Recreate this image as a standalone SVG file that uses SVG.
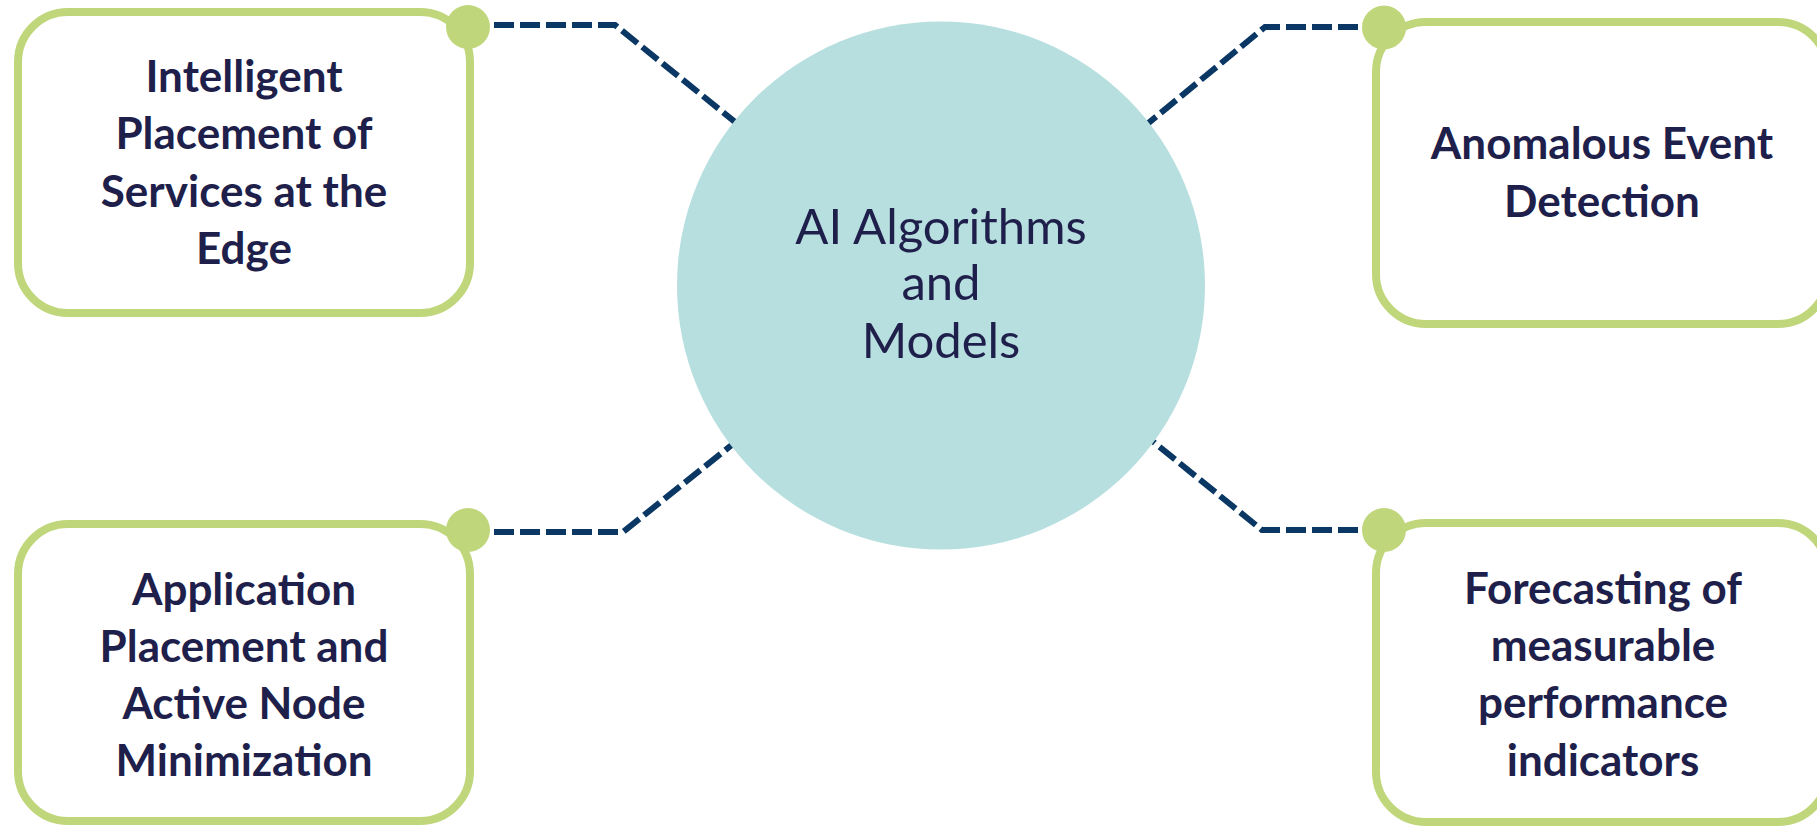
<svg xmlns="http://www.w3.org/2000/svg" width="1817" height="826" viewBox="0 0 1817 826">
<style>
.box{fill:#ffffff;stroke:#bfd67b;stroke-width:8}
.dot{fill:#bfd67b}
.conn{fill:none;stroke:#0a3763;stroke-width:6;stroke-dasharray:20 6}
.lbl{font-family:Lato,"Liberation Sans",sans-serif;font-weight:bold;font-size:44px;fill:#1f1f4b;text-anchor:middle}
.ctr{font-family:Lato,"Liberation Sans",sans-serif;font-size:49px;fill:#1f1f4b;text-anchor:middle}
</style>
<rect width="1817" height="826" fill="#ffffff"/>
<g id="connectors">
<path class="conn" d="M 468 25 H 615 L 740 126"/>
<path class="conn" d="M 1384 27 H 1265 L 1140 130"/>
<path class="conn" d="M 468 532 H 623 L 748 432"/>
<path class="conn" d="M 1384 530 H 1262 L 1140 431"/>
</g>
<g id="center">
<circle cx="941" cy="285.5" r="264" fill="#b8dfdf"/>
<text class="ctr" x="941" y="244">AI Algorithms</text>
<text class="ctr" x="941" y="300">and</text>
<text class="ctr" x="941" y="358">Models</text>
</g>
<g id="node-intelligent">
<rect class="box" x="18" y="12" width="452" height="301" rx="50"/>
<circle class="dot" cx="468" cy="27" r="22"/>
<text class="lbl" x="244" y="92">Intelligent</text>
<text class="lbl" x="244" y="149">Placement of</text>
<text class="lbl" x="244" y="207">Services at the</text>
<text class="lbl" x="244" y="264">Edge</text>
</g>
<g id="node-anomalous">
<rect class="box" x="1376" y="22" width="452" height="302" rx="50"/>
<circle class="dot" cx="1384" cy="27.5" r="22"/>
<text class="lbl" x="1602" y="159">Anomalous Event</text>
<text class="lbl" x="1602" y="217">Detection</text>
</g>
<g id="node-application">
<rect class="box" x="18" y="524" width="452" height="297" rx="50"/>
<circle class="dot" cx="468" cy="530" r="22"/>
<text class="lbl" x="244" y="605">Application</text>
<text class="lbl" x="244" y="662">Placement and</text>
<text class="lbl" x="244" y="719">Active Node</text>
<text class="lbl" x="244" y="776">Minimization</text>
</g>
<g id="node-forecasting">
<rect class="box" x="1376" y="523" width="452" height="299" rx="50"/>
<circle class="dot" cx="1384" cy="530" r="22"/>
<text class="lbl" x="1603" y="604">Forecasting of</text>
<text class="lbl" x="1603" y="661">measurable</text>
<text class="lbl" x="1603" y="718">performance</text>
<text class="lbl" x="1603" y="776">indicators</text>
</g>
</svg>
